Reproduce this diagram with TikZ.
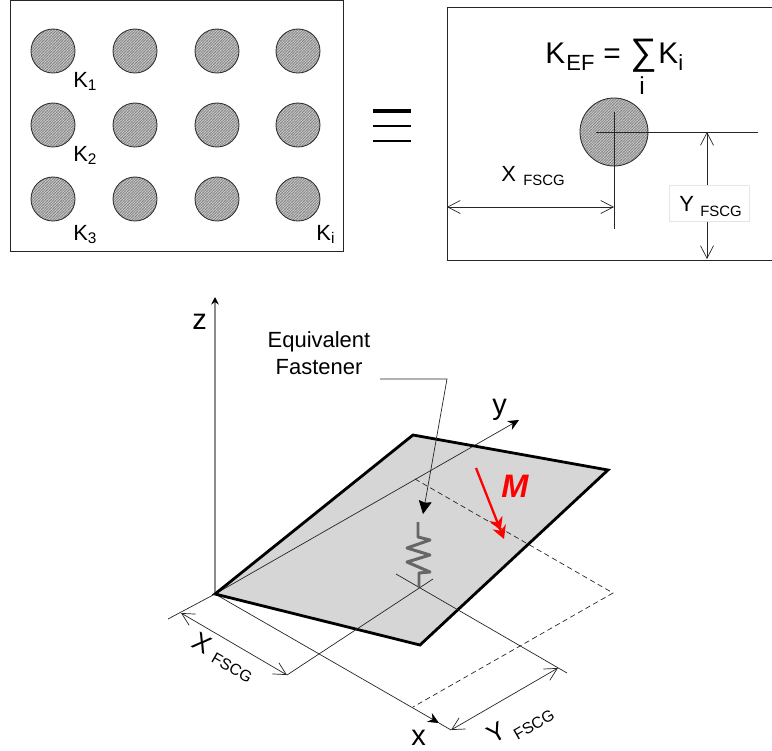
\documentclass[tikz,border=0pt]{standalone}
\usepackage{fontspec}
\setmainfont{Liberation Sans}
\usepackage{xcolor}
\usetikzlibrary{arrows.meta,patterns.meta}

\begin{document}
\begin{tikzpicture}[
  x=0.02cm, y=-0.02cm,
  fastener/.style={circle, draw=black!80, line width=0.5pt, inner sep=0pt, minimum size=#1*0.04cm,
    preaction={fill=gray!60},
    preaction={pattern={Lines[angle=-45,distance=1.1pt,line width=0.2pt]}, pattern color=white!80!gray},
    pattern={Lines[angle=45,distance=1.1pt,line width=0.2pt]}, pattern color=black!60},
  fastener/.default=22,
  label/.style={inner sep=0pt, anchor=base west, font=\fontsize{12.5}{15}\selectfont},
  biglabel/.style={inner sep=0pt, anchor=base west, font=\fontsize{17}{20}\selectfont},
  sublabel/.style={inner sep=0pt, anchor=base west, font=\fontsize{12.5}{15}\selectfont},
  dimtext/.style={inner sep=0pt, anchor=base west, font=\fontsize{12.5}{15}\selectfont},
  dimsub/.style={inner sep=0pt, anchor=base west, font=\fontsize{8.5}{10}\selectfont},
  axislabel/.style={inner sep=0pt, anchor=base west, font=\fontsize{16.5}{20}\selectfont},
  frame/.style={draw=black!85, line width=0.55pt},
  thinline/.style={draw=black!85, line width=0.4pt},
  dimarrow/.style={thinline, {Straight Barb[length=2.5mm,width=2.6mm]}-{Straight Barb[length=2.5mm,width=2.6mm]}},
  axis/.style={thinline, -{Stealth[length=2.2mm,width=2mm,color=black]}}
]
\useasboundingbox (0,0) rectangle (772,751);

% left panel
\draw[frame] (10,0) rectangle (343,251);

\node[fastener] (f11) at (53,51) {};
\node[fastener] (f12) at (135,51) {};
\node[fastener] (f13) at (217,51) {};
\node[fastener] (f14) at (298,51) {};
\node[fastener] (f21) at (53,125) {};
\node[fastener] (f22) at (135,125) {};
\node[fastener] (f23) at (217,125) {};
\node[fastener] (f24) at (298,125) {};
\node[fastener] (f31) at (53,199) {};
\node[fastener] (f32) at (135,199) {};
\node[fastener] (f33) at (217,199) {};
\node[fastener] (f34) at (298,199) {};

\node[label] (k1) at (73,87) {K\textsubscript{1}};
\node[label] (k2) at (73,161) {K\textsubscript{2}};
\node[label] (k3) at (73,240) {K\textsubscript{3}};
\node[label] (ki) at (316,240) {K\textsubscript{i}};

% equivalence sign
\draw[line width=2pt] (373,111) -- (411,111);
\draw[line width=1.7pt] (373,126) -- (411,126);
\draw[line width=1.7pt] (373,141) -- (411,141);

% right panel
\draw[frame] (772,7) -- (447,7) -- (447,260) -- (772,260);

\node[biglabel] (kef) at (545,63) {K};
\node[sublabel] (ef) at (566,70) {EF};
\node[biglabel] (eq) at (603,63) {=};
\node[inner sep=0pt, anchor=base west, font=\fontsize{21}{24}\selectfont] (sum) at (630,64) {∑};
\node[biglabel] (kk) at (658,63) {K};
\node[sublabel] (ksub) at (678,70) {i};
\node[inner sep=0pt, anchor=base west, font=\fontsize{14}{16}\selectfont] (sumi) at (639,94) {i};

\node[fastener=34] (ef0) at (614,132) {};
\coordinate (hl) at (596,132);
\coordinate (hr) at (758,132);
\coordinate (vt) at (614,112);
\coordinate (vb) at (614,229);
\draw[thinline] (hl) -- (hr);
\draw[thinline] (vt) -- (vb);

\coordinate (xa) at (447,207);
\coordinate (xb) at (614,207);
\draw[dimarrow] (xa) -- (xb);
\node[dimtext] (xfs) at (501,181) {X};
\node[dimsub] (xfss) at (523,185) {FSCG};

\coordinate (ya) at (707,132);
\coordinate (yb) at (707,259);
\draw[dimarrow] (ya) -- (yb);
\node[draw=black!10, fill=white, minimum width=80*0.02cm, minimum height=36*0.02cm, inner sep=0pt] (ybox) at (709,203) {};
\node[dimtext] (yfs) at (679,211) {Y};
\node[dimsub] (yfss) at (700,216) {FSCG};

% plate
\coordinate (o) at (215,594);
\coordinate (pt) at (413,435);
\coordinate (pr) at (608,470);
\coordinate (pb) at (420,645);
\fill[gray!32] (o) -- (pt) -- (pr) -- (pb) -- cycle;

% dashed projection
\coordinate (d1) at (415,479);
\coordinate (d2) at (613,593);
\coordinate (d3) at (413,707);
\draw[thinline, densely dashed] (d1) -- (d2) -- (d3);

% axes
\coordinate (ztip) at (215,297);
\coordinate (ytip) at (519,420);
\coordinate (xtip) at (439,723);
\coordinate (xend) at (451,730);
\draw[draw=black!45, line width=0.8pt, -{Stealth[length=1.5mm,width=1.5mm,color=black]}] (o) -- (ztip);
\draw[axis] (o) -- (ytip);
\draw[thinline] (xtip) -- (xend);
\draw[axis] (o) -- (xtip);
\node[axislabel] (zl) at (192,329) {z};
\node[axislabel] (yl) at (492,414) {y};
\node[axislabel] (xl) at (411,745) {x};

\draw[line width=1.6pt, line join=miter] (o) -- (pt) -- (pr) -- (pb) -- cycle;

% fastener position lines
\coordinate (a1) at (396,574);
\coordinate (a2) at (567,673);
\coordinate (b1) at (433,579);
\coordinate (b2) at (287,675);
\coordinate (c1) at (168,619);
\draw[thinline] (a1) -- (a2);
\draw[thinline] (b1) -- (b2);
\draw[thinline] (o) -- (c1);

% dimensions
\coordinate (dx1) at (181,613);
\coordinate (dy2) at (558,668);
\draw[dimarrow] (dx1) -- (b2);
\draw[dimarrow] (xend) -- (dy2);
\node[rotate=-30, inner sep=0pt, font=\fontsize{14.5}{16}\selectfont] (xdl) at (202,643) {X};
\node[rotate=-30, inner sep=0pt, font=\fontsize{9}{11}\selectfont] (xds) at (232,668) {FSCG};
\node[rotate=30, inner sep=0pt, font=\fontsize{14.5}{16}\selectfont] (ydl) at (496,733) {Y};
\node[rotate=30, inner sep=0pt, font=\fontsize{9}{11}\selectfont] (yds) at (534,725) {FSCG};

% spring
\draw[draw=black!60, line width=1.7pt, line join=round]
  (418,522) -- (418,537) -- (430,540) -- (407,548) -- (430,555) -- (407,562)
  -- (430,572) -- (419,573) -- (419,587);

% leader
\node[inner sep=0pt, align=center, font=\fontsize{12.5}{15.3}\selectfont, anchor=base] (eqf) at (319,374)
  {Equivalent\\Fastener};
\coordinate (l1) at (380,379);
\coordinate (l2) at (447,379);
\coordinate (l3) at (423,514);
\draw[thinline, -{Stealth[length=2.6mm,width=2.6mm,inset=0.3mm,color=black]}] (l1) -- (l2) -- (l3);

% moment
\coordinate (m1) at (476,468);
\coordinate (m2) at (504,539);
\draw[red, line width=1.3pt, -{Stealth[length=2.6mm,width=2.8mm,sep=-0.8mm]Stealth[length=2.6mm,width=2.8mm]}] (m1) -- (m2);
\node[red, inner sep=0pt, anchor=base west, font=\fontsize{18.5}{20}\selectfont\bfseries\itshape] (mom) at (501,497) {M};

\end{tikzpicture}
\end{document}
